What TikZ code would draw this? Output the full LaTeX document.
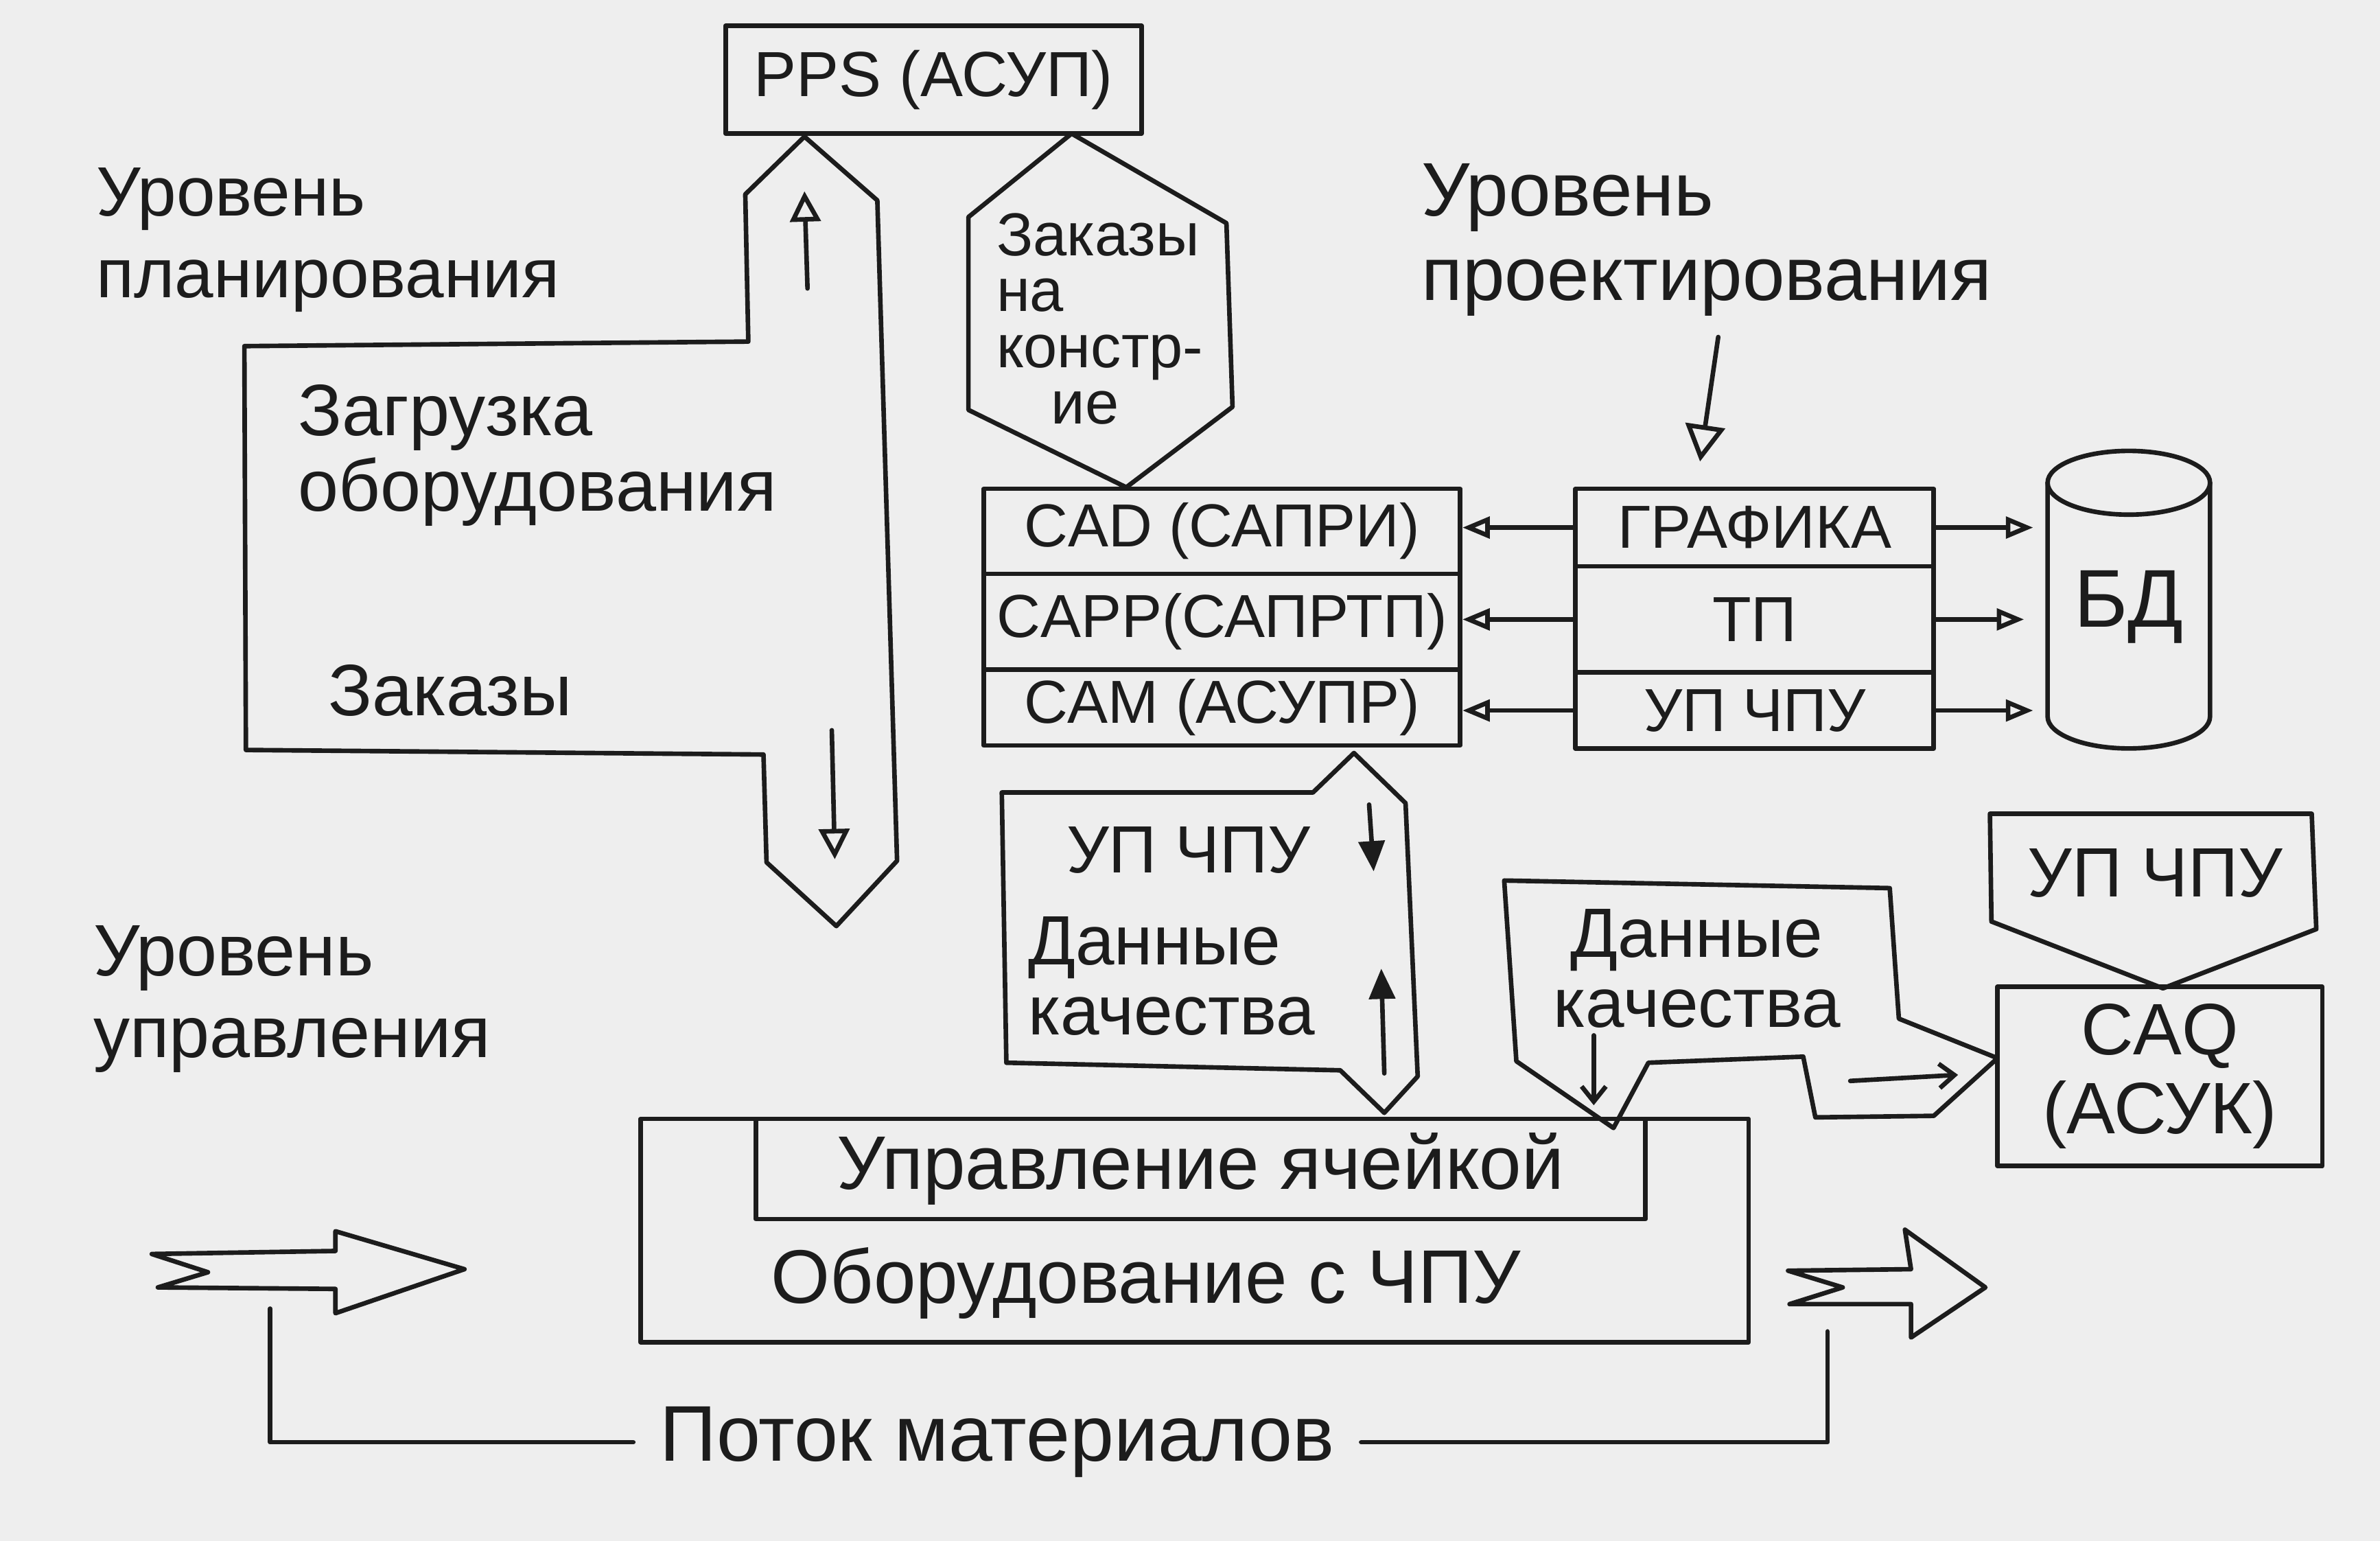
\documentclass[tikz,border=0pt]{standalone}
\usepackage{fontspec}
\setmainfont{Liberation Sans}
\usetikzlibrary{arrows.meta,calc}
\definecolor{inkc}{HTML}{1C1C1C}
\definecolor{paper}{HTML}{EEEEEE}
\newcommand\myfs[2]{\fontsize{#1}{#2}\selectfont}
\begin{document}
\begin{tikzpicture}[x=0.5pt,y=-0.5pt, line width=1.5pt, line join=round, line cap=round,
  box/.style={draw=inkc, inner sep=0pt, text=inkc},
  lbl/.style={inner sep=0pt, text=inkc},
  outl/.style={draw=inkc},
  oarrow/.style={draw=inkc, -{Triangle[open,length=9pt,width=7pt]}},
  bigoarrow/.style={draw=inkc, -{Triangle[open,length=10pt,width=10pt]}},
  farrow/.style={draw=inkc, -{Triangle[length=10pt,width=8.5pt]}},
  sarrow/.style={draw=inkc, -{Straight Barb[length=5pt,width=8pt]}},
  wire/.style={draw=inkc}]
\fill[paper] (0,0) rectangle (1568,1015);
\useasboundingbox (0,0) rectangle (1568,1015);

% level labels
\node[lbl, anchor=west, align=left, font=\myfs{23}{27}] (lvplan) at (62,158) {Уровень\\планирования};
\node[lbl, anchor=west, align=left, font=\myfs{25}{28}] (lvdes) at (935,158) {Уровень\\проектирования};
\node[lbl, anchor=west, align=left, font=\myfs{24}{27}] (lvctl) at (60,658) {Уровень\\управления};

% PPS
\node[box, minimum width=137pt, minimum height=35.5pt, font=\myfs{21}{24}] (pps) at (615,52.5) {PPS (АСУП)};

% left double arrow shape
\draw[outl] (530,90) -- (491,128) -- (493,225) -- (161,228) -- (162,494) -- (503,497)
  -- (505,568) -- (551,610) -- (591,567) -- (578,132) -- cycle;
\node[lbl, anchor=west, align=left, font=\myfs{24}{25}] (load) at (195,300) {Загрузка\\оборудования};
\node[lbl, anchor=west, font=\myfs{24}{25}] (orders) at (215,455) {Заказы};
\coordinate (upA) at (532,190); \coordinate (upB) at (530,126);
\coordinate (dnA) at (548,481); \coordinate (dnB) at (550,566);
\draw[bigoarrow] (upA) -- (upB);
\draw[bigoarrow] (dnA) -- (dnB);

% hexagon
\draw[outl] (706,88) -- (638,143) -- (638,270) -- (742,321) -- (812,268) -- (808,147) -- cycle;
\node[lbl, anchor=west, align=left, font=\myfs{20}{18.5}] (ordc) at (655,210) {Заказы\\на\\констр-\\\hspace*{0.9em}ие};

% CAD stack
\node[box, minimum width=157pt, minimum height=28pt, font=\myfs{20}{24}] (cad1) at (805,350) {CAD (САПРИ)};
\node[box, minimum width=157pt, minimum height=31.5pt, font=\myfs{20}{24}] (cad2) at (805,409.5) {CAPP(САПРТП)};
\node[box, minimum width=157pt, minimum height=25pt, font=\myfs{20}{24}] (cad3) at (805,466) {CAM (АСУПР)};

% GRAFIKA stack
\node[box, minimum width=118pt, minimum height=25.5pt, font=\myfs{20}{24}] (g1) at (1156,347.5) {ГРАФИКА};
\node[box, minimum width=118pt, minimum height=35pt, font=\myfs{21}{24}] (g2) at (1156,408) {ТП};
\node[box, minimum width=118pt, minimum height=25pt, font=\myfs{20}{24}] (g3) at (1156,468) {УП ЧПУ};

\draw[oarrow] (g1.west) -- (g1.west -| cad1.east);
\draw[oarrow] (g2.west) -- (g2.west -| cad2.east);
\draw[oarrow] (g3.west) -- (g3.west -| cad3.east);

% database cylinder
\node[lbl, minimum width=53.5pt, minimum height=97.5pt, font=\myfs{27}{30}] (db) at (1402.5,400) {БД};
\draw[outl] (1349,318) -- (1349,472) arc[start angle=180,end angle=360,x radius=26.75pt,y radius=10.5pt] -- (1456,318);
\draw[outl] (1402.5,318) ellipse [x radius=26.75pt, y radius=10.5pt];
\draw[oarrow, shorten >=4pt] (g1.east) -- (g1.east -| db.west);
\draw[oarrow, shorten >=7pt] (g2.east) -- (g2.east -| db.west);
\draw[oarrow, shorten >=4pt] (g3.east) -- (g3.east -| db.west);

% design arrow
\coordinate (dsA) at (1132,222); \coordinate (dsB) at (1120,304);
\draw[draw=inkc, -{Triangle[open,length=12pt,width=13pt]}] (dsA) -- (dsB);

% lower-left arrow shape (UP CHPU / Dannye kachestva)
\draw[outl] (892,496) -- (865,522) -- (660,522) -- (663,700) -- (883,705) -- (912,733) -- (934,709) -- (926,529) -- cycle;
\node[lbl, font=\myfs{22}{24}] (mup) at (783,560) {УП ЧПУ};
\node[lbl, anchor=west, align=left, font=\myfs{23}{23}] (mdata) at (676,643) {Данные\\качества};
\coordinate (mdA) at (902,530); \coordinate (mdB) at (905,574);
\coordinate (muA) at (912,707); \coordinate (muB) at (910,638);
\draw[farrow] (mdA) -- (mdB);
\draw[farrow] (muA) -- (muB);

% right arrow shape (Dannye kachestva)
\draw[outl] (991,580) -- (1245,585) -- (1251,671) -- (1316,697) -- (1274,735) -- (1196,736)
  -- (1188,696) -- (1086,700) -- (1063,743) -- (999,699) -- cycle;
\node[lbl, align=center, font=\myfs{23}{23}] (rdata) at (1118,638) {Данные\\качества};
\coordinate (rdA) at (1050,682); \coordinate (rdB) at (1050,728);
\coordinate (rrA) at (1219,712); \coordinate (rrB) at (1290,708);
\draw[sarrow] (rdA) -- (rdB);
\draw[sarrow] (rrA) -- (rrB);

% pentagon UP CHPU and CAQ
\draw[outl] (1311,536) -- (1523,536) -- (1526,612) -- (1425,651) -- (1312,607) -- cycle;
\node[lbl, font=\myfs{23}{24}] (pent) at (1420,575) {УП ЧПУ};
\node[box, minimum width=107pt, minimum height=59pt, align=center, font=\myfs{24}{26}] (caq) at (1423,709) {CAQ\\(АСУК)};

% equipment boxes
\node[box, minimum width=365pt, minimum height=73.5pt] (eqbox) at (787,810.5) {};
\node[box, minimum width=293pt, minimum height=33pt, font=\myfs{25}{28}] (cell) at (791,770) {Управление ячейкой};
\node[lbl, font=\myfs{25}{28}] (eqtxt) at (755,845) {Оборудование с ЧПУ};

% material flow arrows
\draw[outl] (100,826) -- (221,824) -- (221,811) -- (306,836) -- (221,865) -- (221,849) -- (104,848) -- (137,838) -- cycle;
\draw[outl] (1178,837) -- (1259,836) -- (1255,810) -- (1308,848) -- (1259,881) -- (1259,859) -- (1179,859) -- (1214,848) -- cycle;
\node[lbl, font=\myfs{26}{28}] (flow) at (657,950) {Поток материалов};
\coordinate (flowL) at (178,862);
\coordinate (flowR) at (1204,877);
\draw[wire, shorten >=8pt] (flowL) |- (flow.west);
\draw[wire, shorten <=8pt] (flow.east) -| (flowR);
\end{tikzpicture}
\end{document}
